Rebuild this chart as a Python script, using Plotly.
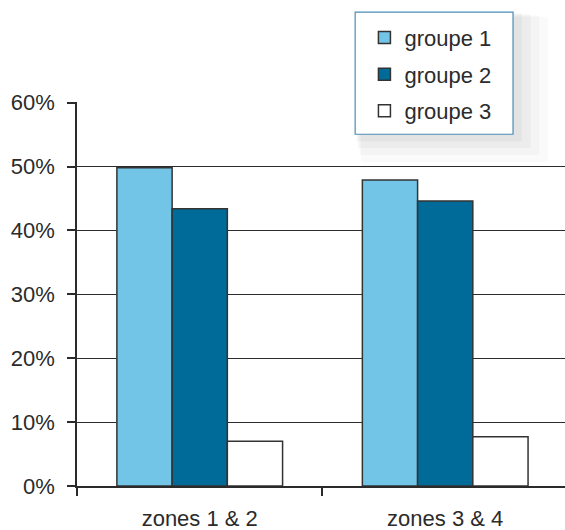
import plotly.graph_objects as go

# data
zones = ["zones 1 & 2", "zones 3 & 4"]
groupe_1 = [0.498, 0.479]
groupe_2 = [0.434, 0.446]
groupe_3 = [0.070, 0.077]
series_names = ["groupe 1", "groupe 2", "groupe 3"]
y_ticks = [0, 0.1, 0.2, 0.3, 0.4, 0.5, 0.6]

colors = ["#73c5e8", "#006a99", "#ffffff"]
font_family = "Arial, Liberation Sans, sans-serif"
ink = "#2b2b2b"

fig = go.Figure()
for i, (name, vals) in enumerate(zip(series_names, [groupe_1, groupe_2, groupe_3])):
    fig.add_trace(go.Bar(
        x=zones, y=vals, name=name,
        marker=dict(color=colors[i], line=dict(color="#333333", width=1.5)),
        legendgroup=name,
    ))

# legend frame + soft shadow drawn as shapes (paper coords)
box = dict(x0=0.57, x1=0.8935, y0=0.916, y1=1.234)
for k, op in enumerate([0.02, 0.025, 0.03, 0.035]):
    d = 0.01 * (4 - k)
    fig.add_shape(type="rect", xref="paper", yref="paper", layer="above",
                  x0=box["x0"] + d * 0.3, x1=box["x1"] + d * 1.8,
                  y0=box["y0"] - d * 1.8, y1=box["y1"] - d * 0.3,
                  fillcolor="#000000", opacity=op, line=dict(width=0))
fig.add_shape(type="rect", xref="paper", yref="paper", layer="above",
              fillcolor="white", line=dict(color="#4a8db5", width=1.2), **box)

fig.update_layout(
    width=565, height=530,
    margin=dict(l=77, r=0, t=102, b=44),
    paper_bgcolor="white", plot_bgcolor="white",
    barmode="group", bargap=0.325, bargroupgap=0,
    font=dict(family=font_family, size=22, color=ink),
    showlegend=True,
    legend=dict(
        x=0.589, y=1.222, xanchor="left", yanchor="top",
        bgcolor="rgba(0,0,0,0)", borderwidth=0,
        font=dict(size=22, color=ink),
        traceorder="grouped", tracegroupgap=5,
    ),
    xaxis=dict(
        type="category", range=[-0.5, 1.488], automargin=False,
        showline=True, linecolor=ink, linewidth=1.5,
        ticks="outside", tickson="boundaries", ticklen=8, tickcolor=ink, tickwidth=1.5,
        showgrid=False, ticklabelstandoff=12,
    ),
    yaxis=dict(
        range=[0, 0.601], tickvals=y_ticks, tickformat=".0%", automargin=False,
        showline=True, linecolor=ink, linewidth=1.5,
        ticks="outside", ticklen=8, tickcolor=ink, tickwidth=1.5,
        showgrid=True, gridcolor=ink, gridwidth=1.3,
        zeroline=False, ticklabelstandoff=8,
    ),
)

# drop the page's default 8px body margin so the figure fills the window
fig.write_html("out.html", config={"displayModeBar": False},
               post_script="document.body.style.margin='0px';")
